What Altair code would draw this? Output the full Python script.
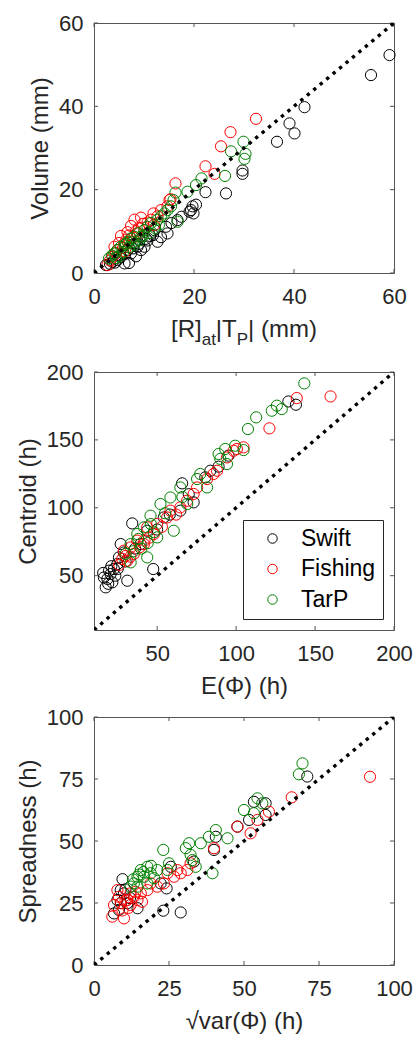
import altair as alt
import pandas as pd

GROUPS = ["Swift", "Fishing", "TarP"]
COLORS = ["#000000", "#ff0000", "#008000"]
FONT = "Liberation Sans"
TXT = "#262626"
BOX = "#555555"

# ---------------- Panel 1: Volume vs [R]at|TP| ----------------
p1_swift_x = [59.1, 55.4, 42.1, 39.1, 40.1, 36.6, 29.7, 29.7, 22.3, 26.4, 19.7, 20.4, 19.1, 19.9, 19.4,
              16.7, 14.4, 13.4, 10.1, 6.1, 4.7, 2.4, 10.7, 8.7, 7.4, 8.1, 12.1, 14.7, 12.7, 9.4, 5.4,
              3.7, 6.7, 7.0, 11.2, 15.5, 17.5, 9.0, 6.0, 4.2, 5.2, 7.8, 10.4, 11.8, 3.2, 8.4]
p1_swift_y = [52.3, 47.5, 39.8, 35.9, 33.5, 31.5, 24.6, 23.8, 19.4, 19.1, 16.0, 16.4, 14.7, 14.3, 15.1,
              12.7, 11.1, 8.6, 6.3, 2.3, 3.1, 1.9, 7.8, 6.3, 4.7, 7.1, 10.3, 9.5, 7.5, 5.5, 3.9,
              2.7, 5.5, 2.4, 8.9, 12.0, 13.5, 7.0, 4.5, 2.5, 4.2, 5.9, 8.2, 9.1, 2.2, 4.0]
p1_fish_x = [32.4, 27.3, 25.4, 22.3, 24.1, 16.3, 15.3, 15.1, 11.9, 13.4, 8.1, 9.4, 10.7, 7.4, 6.7, 5.4,
             4.1, 2.7, 3.7, 6.1, 8.7, 10.1, 11.4, 12.7, 4.7, 14.7, 7.8, 9.0, 5.8, 3.2, 6.5, 12.0,
             5.0, 7.0, 8.4, 9.8, 4.4, 6.2]
p1_fish_y = [37.0, 33.8, 30.4, 25.6, 23.8, 21.5, 17.7, 17.5, 14.3, 15.1, 12.8, 13.3, 12.1, 11.3, 9.8, 8.9,
             6.3, 1.9, 3.9, 7.1, 9.5, 10.3, 12.8, 13.6, 5.5, 16.0, 8.5, 10.8, 6.0, 3.0, 8.0, 11.5,
             7.2, 9.0, 10.0, 11.8, 4.8, 5.2]
p1_tarp_x = [29.9, 30.3, 30.1, 27.4, 26.2, 21.5, 20.4, 18.7, 16.3, 15.9, 16.7, 15.4, 14.1, 12.7, 11.4,
             10.1, 8.7, 8.1, 6.7, 5.4, 4.7, 4.1, 6.1, 7.4, 10.7, 13.4, 9.4, 14.7, 3.6, 5.0, 7.0, 9.0,
             11.0, 12.2, 3.0, 8.0, 5.8, 6.4, 7.7, 9.9, 4.4, 13.0]
p1_tarp_y = [31.5, 28.6, 27.4, 29.2, 23.3, 22.7, 21.1, 19.5, 19.3, 17.5, 12.3, 16.0, 14.3, 12.8, 12.0,
             10.3, 9.5, 8.7, 7.5, 6.3, 5.5, 4.7, 6.7, 8.3, 11.1, 13.6, 8.7, 15.1, 4.2, 4.0, 6.2, 7.8,
             9.6, 10.8, 3.5, 6.8, 5.0, 7.0, 7.4, 9.0, 3.6, 11.6]

# ---------------- Panel 2: Centroid vs E(Phi) ----------------
p2_swift_x = [137.9, 133.1, 17.4, 18.5, 20.5, 19.5, 22.6, 24.8, 25.8, 28.9, 31.1, 47.5, 34.2, 65.8, 73.1,
              88.9, 95.2, 64.7, 54.2, 43.7, 39.5, 26.9, 21.6, 16.3, 80.5, 83.7, 19.0, 23.5, 30.0, 36.0,
              50.0, 58.0, 70.0, 15.8, 21.0, 25.0]
p2_swift_y = [175.9, 178.3, 41.4, 47.6, 51.2, 53.7, 54.9, 58.6, 63.5, 67.1, 46.3, 54.9, 88.5, 118.0, 104.0,
              130.3, 138.4, 97.9, 92.9, 83.1, 73.3, 73.3, 45.1, 48.7, 122.4, 127.3, 44.0, 50.0, 60.5, 70.0,
              84.0, 95.0, 110.0, 52.0, 57.0, 55.0]
p2_fish_x = [159.8, 138.4, 121.1, 100.5, 104.7, 94.2, 87.9, 81.6, 75.3, 69.0, 64.7, 56.3, 50.0, 43.7, 37.4,
             33.2, 28.9, 27.9, 31.1, 35.2, 41.6, 47.9, 58.4, 73.1, 85.7, 98.4, 30.0, 39.0, 45.0, 53.0,
             62.0, 26.0, 33.0, 42.0]
p2_fish_y = [182.0, 180.8, 158.5, 143.3, 144.5, 137.1, 127.3, 121.2, 115.0, 105.2, 100.3, 92.9, 88.1, 85.6,
             75.8, 70.8, 68.4, 62.3, 61.0, 66.0, 73.3, 80.7, 97.9, 110.2, 124.9, 142.0, 64.5, 71.0, 78.0,
             86.0, 95.0, 58.0, 64.0, 76.0]
p2_tarp_x = [143.2, 122.6, 125.8, 128.9, 112.7, 107.5, 99.4, 93.1, 88.9, 104.7, 77.3, 75.3, 64.7, 58.4, 52.1,
             45.8, 60.5, 50.0, 41.6, 37.4, 33.2, 33.2, 43.7, 69.0, 81.6, 94.2, 38.0, 46.0, 55.0, 40.0,
             48.0, 35.0, 66.0, 90.0, 30.0, 44.0]
p2_tarp_y = [191.6, 171.5, 175.2, 172.7, 166.6, 158.0, 145.7, 143.3, 139.6, 142.5, 124.9, 121.2, 115.0,
             107.6, 102.8, 94.2, 83.1, 78.2, 85.6, 80.7, 73.3, 59.8, 63.5, 102.8, 115.0, 132.2, 77.0, 88.0,
             96.0, 70.0, 82.0, 68.0, 108.0, 136.0, 66.0, 74.0]

# ---------------- Panel 3: Spreadness vs sqrt(var(Phi)) ----------------
p3_swift_x = [71.1, 57.2, 53.3, 57.2, 51.7, 47.8, 40.6, 40.0, 33.3, 25.6, 24.2, 23.1, 28.9, 9.5, 8.9, 14.5,
              6.7, 8.3, 7.8, 10.0, 11.1, 22.2, 12.0, 9.0, 10.5]
p3_swift_y = [76.0, 65.2, 65.8, 60.5, 58.5, 55.8, 51.7, 46.4, 41.7, 39.6, 30.9, 21.9, 21.2, 34.6, 30.2, 22.9,
              20.8, 22.2, 26.2, 28.9, 24.9, 32.9, 27.0, 25.0, 30.5]
p3_fish_x = [92.0, 65.9, 58.3, 52.2, 54.5, 47.8, 40.0, 32.2, 28.9, 26.7, 23.3, 21.1, 17.8, 15.6, 13.3, 11.1,
             8.9, 10.0, 6.1, 8.3, 12.2, 14.5, 18.9, 27.8, 31.1, 7.8, 6.7, 12.2, 24.5, 9.5, 11.5, 16.0,
             10.5, 13.8]
p3_fish_y = [75.9, 67.6, 61.8, 53.1, 58.5, 55.8, 47.1, 41.0, 37.0, 35.6, 32.9, 31.6, 30.2, 28.9, 27.5, 26.2,
             24.9, 18.8, 19.5, 27.5, 28.9, 26.2, 32.9, 38.3, 38.3, 30.2, 24.2, 24.2, 37.0, 22.0, 23.0, 25.5,
             26.0, 29.5]
p3_tarp_x = [69.5, 68.3, 54.5, 56.1, 50.0, 53.3, 44.5, 40.6, 38.3, 35.6, 31.7, 30.6, 32.2, 32.8, 33.9, 39.5,
             23.1, 25.0, 21.1, 17.8, 15.6, 14.5, 13.3, 16.7, 18.9, 12.2, 14.5, 17.8, 20.0, 24.5, 15.0, 19.0,
             13.0, 16.5]
p3_tarp_y = [81.3, 76.9, 67.2, 65.2, 62.5, 61.2, 51.1, 54.4, 51.7, 49.1, 49.1, 47.1, 44.4, 42.3, 39.6, 37.0,
             46.4, 41.0, 38.3, 39.6, 38.3, 35.6, 32.9, 35.6, 37.0, 31.6, 31.6, 32.9, 35.0, 38.3, 36.5, 40.0,
             34.5, 37.5]

P1_DOMAIN, P1_TICKS = [0, 60], [0, 20, 40, 60]
P2_DOMAIN, P2_TICKS = [10, 200], [50, 100, 150, 200]
P3_DOMAIN, P3_TICKS = [0, 100], [0, 25, 50, 75, 100]

W = 300
TL = 4  # inner tick length

# Liberation Sans advance widths (per 1000 em) for title layout
ADV = {"[": 278, "R": 722, "]": 278, "a": 556, "t": 278, "|": 260, "T": 611, "P": 667,
       " ": 278, "(": 333, "m": 833, ")": 333}


def text_width(s, size):
    return sum(ADV[c] for c in s) * size / 1000.0


def frame(series):
    rows = []
    for g, (xs, ys) in zip(GROUPS, series):
        for a, b in zip(xs, ys):
            rows.append({"x": a, "y": b, "group": g})
    return pd.DataFrame(rows)


def panel(df, dom, ticks, h, xtitle, ytitle, legend=None, extra=()):
    xs = alt.Scale(domain=dom, nice=False, zero=False)
    ys = alt.Scale(domain=dom, nice=False, zero=False)
    xaxis = alt.Axis(values=ticks, title=xtitle, labelFlush=False, labelOverlap=False)
    yaxis = alt.Axis(values=ticks, title=ytitle, labelFlush=False, labelOverlap=False)
    X = alt.X("x:Q", scale=xs, axis=xaxis)
    Y = alt.Y("y:Q", scale=ys, axis=yaxis)

    pts = alt.Chart(df).mark_point(shape="circle", filled=False, size=125, strokeWidth=1, opacity=1).encode(
        x=X, y=Y,
        color=alt.Color("group:N", scale=alt.Scale(domain=GROUPS, range=COLORS), legend=legend),
    )
    diag = alt.Chart(pd.DataFrame({"x": dom, "y": dom})).mark_line(
        color="black", strokeDash=[3.4, 5], strokeWidth=3.4, clip=True
    ).encode(x=X, y=Y)
    tdf = pd.DataFrame({"x": ticks, "y": ticks})
    bot = alt.Chart(tdf).mark_rule(color=BOX, strokeWidth=1).encode(x=X, y=alt.value(h), y2=alt.value(h - TL))
    top = alt.Chart(tdf).mark_rule(color=BOX, strokeWidth=1).encode(x=X, y=alt.value(0), y2=alt.value(TL))
    lef = alt.Chart(tdf).mark_rule(color=BOX, strokeWidth=1).encode(y=Y, x=alt.value(0), x2=alt.value(TL))
    rig = alt.Chart(tdf).mark_rule(color=BOX, strokeWidth=1).encode(y=Y, x=alt.value(W), x2=alt.value(W - TL))
    layers = [pts, bot, top, lef, rig, diag] + list(extra)
    return alt.layer(*layers).properties(width=W, height=h)


def text_piece(txt, px, py, size, opacity=1):
    return alt.Chart(pd.DataFrame({"t": [txt]})).mark_text(
        align="left", baseline="alphabetic", fontSize=size, font=FONT, color=TXT, opacity=opacity
    ).encode(x=alt.value(px), y=alt.value(py), text="t:N")


# ----- custom x title with subscripts for panel 1: [R]_at |T_P| (mm)
H1, H2, H3 = 250, 258, 248
MAIN, SUB = 24, 17
pieces = [("[R]", MAIN, 0), ("at", SUB, 8), ("|T", MAIN, 0), ("P", SUB, 8), ("| (mm)", MAIN, 0)]
total = sum(text_width(s, sz) for s, sz, _ in pieces)
cx = W / 2 - total / 2
base = H1 + 64
title_layers = []
for s, sz, dy in pieces:
    title_layers.append(text_piece(s, cx, base + dy, sz))
    cx += text_width(s, sz)
title_layers.append(text_piece(".", W / 2, H1 + 75, MAIN, opacity=0))

legend = alt.Legend(
    title=None, orient="bottom-right", offset=11, padding=7, strokeColor="#262626", fillColor="white",
    labelFont=FONT, labelFontSize=23, labelColor="black", symbolType="circle", symbolSize=90,
    symbolStrokeWidth=1, rowPadding=6.5, symbolOffset=11, labelOffset=17, cornerRadius=0,
)

p1 = panel(frame([(p1_swift_x, p1_swift_y), (p1_fish_x, p1_fish_y), (p1_tarp_x, p1_tarp_y)]),
           P1_DOMAIN, P1_TICKS, H1, None, "Volume (mm)", extra=title_layers)
p2 = panel(frame([(p2_swift_x, p2_swift_y), (p2_fish_x, p2_fish_y), (p2_tarp_x, p2_tarp_y)]),
           P2_DOMAIN, P2_TICKS, H2, "E(Φ) (h)", "Centroid (h)", legend=legend)
p3 = panel(frame([(p3_swift_x, p3_swift_y), (p3_fish_x, p3_fish_y), (p3_tarp_x, p3_tarp_y)]),
           P3_DOMAIN, P3_TICKS, H3, "√var(Φ) (h)", "Spreadness (h)")

chart = alt.vconcat(p1, p2, p3, spacing=6).resolve_scale(color="independent").configure_view(
    stroke=BOX, strokeWidth=1
).configure_axis(
    grid=False, domain=False, ticks=False, tickSize=0,
    labelFont=FONT, labelFontSize=22, labelColor=TXT,
    titleFont=FONT, titleFontSize=24, titleColor=TXT, titleFontWeight="normal",
).configure_axisX(labelPadding=13, titlePadding=10).configure_axisY(labelPadding=11, titlePadding=6).properties(
    padding={"left": 15, "top": 11, "right": 0, "bottom": 3}, background="white"
)

chart.save("out.html", embed_options={"renderer": "svg", "actions": False})
